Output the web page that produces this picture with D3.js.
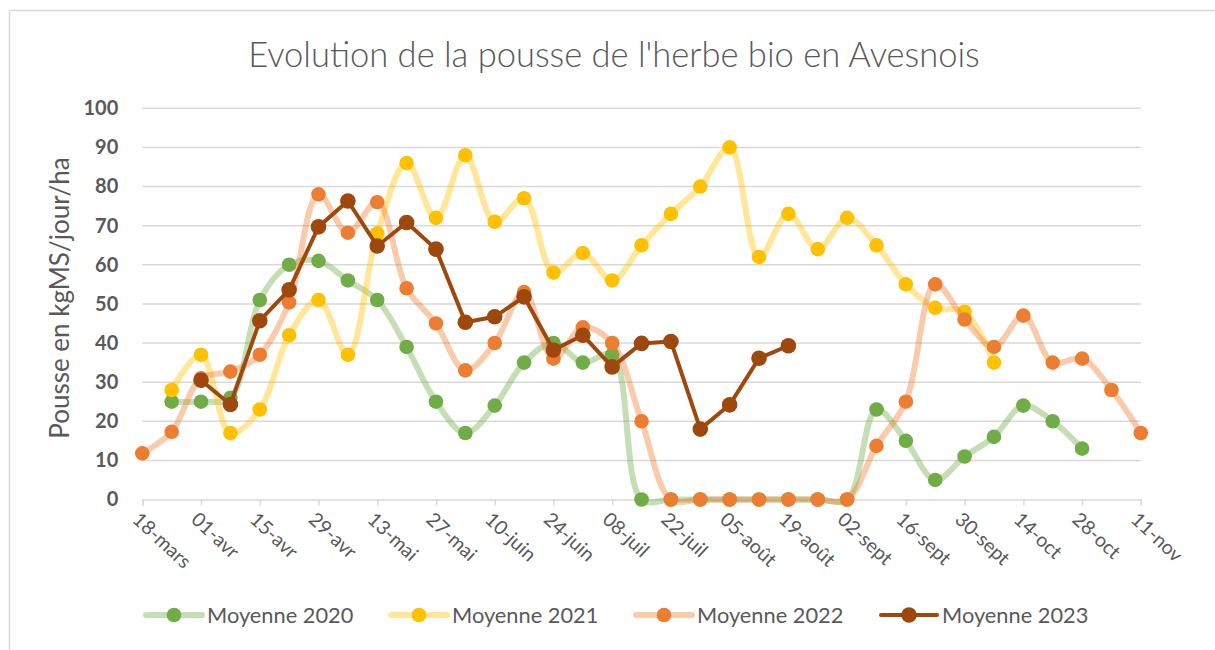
<!DOCTYPE html>
<html>
<head>
<meta charset="utf-8">
<script src="https://cdn.jsdelivr.net/npm/d3@7"></script>
<style>
  body { margin: 0; background: #fff; }
  svg text { font-family: Lato, "Open Sans", sans-serif; fill: #595959; }
</style>
</head>
<body>
<div id="chart"></div>
<script>
// weekly points, 18-mars (0) ... 11-nov (34)
var tickLabels = ["18-mars","01-avr","15-avr","29-avr","13-mai","27-mai","10-juin","24-juin","08-juil",
                  "22-juil","05-août","19-août","02-sept","16-sept","30-sept","14-oct","28-oct","11-nov"];
var yTicks = [0,10,20,30,40,50,60,70,80,90,100];

var moy2020 = [null,25,25,26,51,60,61,56,51,39,25,17,24,35,40,35,37,0,0,0,0,0,0,0,0,23,15,5,11,16,24,20,13,null,null];
var moy2021 = [null,28,37,17,23,42,51,37,68,86,72,88,71,77,58,63,56,65,73,80,90,62,73,64,72,65,55,49,48,35,null,null,null,null,null];
var moy2022 = [11.8,17.3,31,32.7,37,50.4,78,68.2,76,54,45,33,40,53,36,44,40,20,0,0,0,0,0,0,0,13.7,25,55,46,39,47,35,36,28,17];
var moy2023 = [null,null,30.5,24.3,45.7,53.6,69.7,76.3,64.8,70.8,64,45.3,46.7,51.8,38.2,42,33.9,39.9,40.4,18,24.2,36.1,39.3,null,null,null,null,null,null,null,null,null,null,null,null];

var series = [
  {name:"Moyenne 2020", values:moy2020, line:"#70ad47", mark:"#70ad47", op:0.4, w:6, smooth:true, r:7.3},
  {name:"Moyenne 2021", values:moy2021, line:"#ffc000", mark:"#ffc000", op:0.4, w:6, smooth:true, r:7.3},
  {name:"Moyenne 2022", values:moy2022, line:"#ed7d31", mark:"#ed7d31", op:0.4, w:6, smooth:true, r:7.3},
  {name:"Moyenne 2023", values:moy2023, line:"#9e480e", mark:"#9e480e", op:1, w:4, smooth:false, r:7.8}
];

var W = 1215, H = 650;
var svg = d3.select("#chart").append("svg").attr("width", W).attr("height", H);

svg.append("rect").attr("x", 9.5).attr("y", 10.5).attr("width", W).attr("height", H)
  .attr("fill", "#fff").attr("stroke", "#d9d9d9").attr("stroke-width", 1.5);

var x = d3.scaleLinear().domain([0, 34]).range([142.3, 1140.8]);
var y = d3.scaleLinear().domain([0, 100]).range([499.5, 108.3]);

svg.append("text").attr("x", 614).attr("y", 67).attr("text-anchor", "middle")
  .style("font-size", "34.5px").style("font-weight", 300)
  .text("Evolution de la pousse de l'herbe bio en Avesnois");

// gridlines
svg.append("g").selectAll("line").data(yTicks.slice(1)).enter().append("line")
  .attr("x1", x(0)).attr("x2", x(34)).attr("y1", function(d){ return y(d); }).attr("y2", function(d){ return y(d); })
  .attr("stroke", "#d9d9d9").attr("stroke-width", 1.5);

// y axis
var gy = svg.append("g").attr("transform", "translate(" + x(0) + ",0)")
  .call(d3.axisLeft(y).tickValues(yTicks).tickSize(0).tickPadding(24));
gy.select(".domain").remove();
gy.selectAll("text").style("font-size", "20px").style("font-weight", "bold").attr("fill", "#595959");

// x axis
var gx = svg.append("g").attr("transform", "translate(0," + y(0) + ")")
  .call(d3.axisBottom(x).tickValues(d3.range(0, 35, 2)).tickSize(6)
        .tickFormat(function(d, i){ return tickLabels[i]; }));
gx.select(".domain").attr("stroke", "#d9d9d9").attr("stroke-width", 1.5);
gx.selectAll(".tick line").attr("stroke", "#d9d9d9").attr("stroke-width", 1.5);
gx.selectAll("text").attr("fill", "#595959").style("font-size", "19.5px")
  .attr("text-anchor", "start").attr("dy", "0.7em")
  .attr("transform", "translate(4,5) rotate(43)");

svg.append("text").attr("transform", "translate(69,298) rotate(-90)").attr("text-anchor", "middle")
  .style("font-size", "26px").text("Pousse en kgMS/jour/ha");

// series
series.forEach(function(s){
  var pts = s.values.map(function(v, i){ return {i:i, v:v}; });
  var line = d3.line()
    .defined(function(d){ return d.v !== null; })
    .x(function(d){ return x(d.i); })
    .y(function(d){ return y(d.v); })
    .curve(s.smooth ? d3.curveCatmullRom.alpha(0.5) : d3.curveLinear);
  var g = svg.append("g");
  g.append("path").datum(pts).attr("d", line).attr("fill", "none")
    .attr("stroke", s.line).attr("stroke-opacity", s.op).attr("stroke-width", s.w)
    .attr("stroke-linejoin", "round").attr("stroke-linecap", "round");
  g.selectAll("circle").data(pts.filter(function(d){ return d.v !== null; })).enter().append("circle")
    .attr("cx", function(d){ return x(d.i); }).attr("cy", function(d){ return y(d.v); })
    .attr("r", s.r).attr("fill", s.mark);
});

// legend
var legX = [146, 391, 636, 881];
var leg = svg.append("g").selectAll("g").data(series).enter().append("g")
  .attr("transform", function(d, i){ return "translate(" + legX[i] + ",615)"; });
leg.append("line").attr("x1", 0).attr("x2", 56).attr("stroke", function(d){ return d.line; })
  .attr("stroke-opacity", function(d){ return d.op; }).attr("stroke-width", function(d){ return d.w; })
  .attr("stroke-linecap", "round");
leg.append("circle").attr("cx", 28).attr("r", function(d){ return d.r; }).attr("fill", function(d){ return d.mark; });
leg.append("text").attr("x", 61).attr("dy", "0.35em").style("font-size", "21.8px").text(function(d){ return d.name; });
</script>
</body>
</html>
